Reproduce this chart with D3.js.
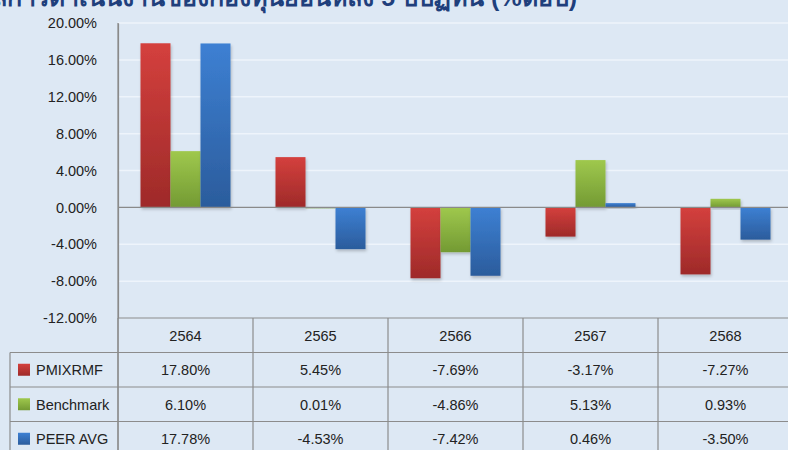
<!DOCTYPE html>
<html>
<head>
<meta charset="utf-8" />
<script src="https://d3js.org/d3.v7.min.js"></script>
<style>
  body { margin: 0; background: #dde8f4; }
  svg { display: block; }
  text { font-family: "Liberation Sans", Arial, sans-serif; fill: #222; }
</style>
</head>
<body>
<svg width="788" height="450"></svg>
<script>
const years = ["2564", "2565", "2566", "2567", "2568"];
const seriesNames = ["PMIXRMF", "Benchmark", "PEER AVG"];
const pmixrmf = [17.80, 5.45, -7.69, -3.17, -7.27];
const benchmark = [6.10, 0.01, -4.86, 5.13, 0.93];
const peerAvg = [17.78, -4.53, -7.42, 0.46, -3.50];
const yTicks = [20, 16, 12, 8, 4, 0, -4, -8, -12];
const title = "ผลการดำเนินงานของกองทุนย้อนหลัง 5 ปีปฏิทิน (%ต่อปี)";

const seriesValues = [pmixrmf, benchmark, peerAvg];
const colors = [
  { top: "#d4403d", bottom: "#9e2a29" },
  { top: "#9fc84d", bottom: "#739a33" },
  { top: "#3d80d3", bottom: "#2b5c9c" }
];

const svg = d3.select("svg");
const plotLeft = 118, plotRight = 793, plotTop = 23, plotBottom = 318;
const rowH = 34.5, legendLeft = 10;
const fmt = d3.formatLocale({ decimal: ".", thousands: ",", grouping: [3], currency: ["", ""], minus: "-" }).format(".2f");
const pct = v => fmt(v) + "%";

// title, cut off at the top edge like the source image
svg.append("text")
  .attr("x", 577).attr("y", 6)
  .attr("text-anchor", "end")
  .style("font-size", "25px").style("font-weight", "bold")
  .style("fill", "#1f3f7c")
  .text(title);

const y = d3.scaleLinear().domain([-12, 20]).range([plotBottom, plotTop]);
const x0 = d3.scaleBand().domain(years).range([plotLeft, plotRight]).padding(0);
const x1 = d3.scaleBand().domain(seriesNames).range([0, x0.bandwidth()]).paddingOuter(0.75).paddingInner(0);

// gradients
const defs = svg.append("defs");
colors.forEach((c, i) => {
  const g = defs.append("linearGradient").attr("id", "grad" + i)
    .attr("x1", 0).attr("y1", 0).attr("x2", 0).attr("y2", 1);
  g.append("stop").attr("offset", "0%").attr("stop-color", c.top);
  g.append("stop").attr("offset", "100%").attr("stop-color", c.bottom);
});
const shadow = defs.append("filter").attr("id", "shadow")
  .attr("x", "-20%").attr("y", "-20%").attr("width", "140%").attr("height", "140%");
shadow.append("feDropShadow").attr("dx", 1).attr("dy", 2).attr("stdDeviation", 1.5)
  .attr("flood-color", "#000").attr("flood-opacity", 0.22);

// gridlines
svg.append("g")
  .selectAll("line")
  .data(yTicks.filter(d => d !== 0 && d !== -12))
  .join("line")
  .attr("x1", plotLeft).attr("x2", 788)
  .attr("y1", d => y(d)).attr("y2", d => y(d))
  .attr("stroke", "#eef4fb").attr("stroke-width", 1.5);

// y axis
const yAxis = svg.append("g")
  .attr("transform", `translate(${plotLeft},0)`)
  .call(d3.axisLeft(y).tickValues(yTicks).tickSize(0).tickPadding(21).tickFormat(pct));
yAxis.select(".domain").attr("stroke", "#8a8a8a").attr("stroke-width", 1.2);
yAxis.selectAll("text").style("font-size", "14.5px").style("fill", "#222")
  .style("font-family", "'Liberation Sans', Arial, sans-serif");

// bars
const data = [];
years.forEach((yr, i) => seriesNames.forEach((s, j) => data.push({ yr, s, j, v: seriesValues[j][i] })));
svg.append("g")
  .selectAll("rect")
  .data(data)
  .join("rect")
  .attr("x", d => x0(d.yr) + x1(d.s))
  .attr("width", x1.bandwidth())
  .attr("y", d => y(Math.max(0, d.v)))
  .attr("height", d => Math.max(1, Math.abs(y(d.v) - y(0))))
  .attr("fill", d => `url(#grad${d.j})`)
  .attr("filter", "url(#shadow)");

// zero line
svg.append("line")
  .attr("x1", plotLeft).attr("x2", 788)
  .attr("y1", y(0)).attr("y2", y(0))
  .attr("stroke", "#8a8a8a").attr("stroke-width", 1.2);

// table
const table = svg.append("g");
const lineColor = "#8c8c8c";
const tableBottom = plotBottom + rowH * 4;
[0, 1, 2, 3].forEach(r => {
  table.append("line")
    .attr("x1", r === 0 ? plotLeft : legendLeft).attr("x2", 788)
    .attr("y1", plotBottom + r * rowH).attr("y2", plotBottom + r * rowH)
    .attr("stroke", lineColor).attr("stroke-width", 1.2);
});
years.forEach(yr => {
  table.append("line")
    .attr("x1", x0(yr)).attr("x2", x0(yr))
    .attr("y1", plotBottom).attr("y2", tableBottom)
    .attr("stroke", lineColor).attr("stroke-width", 1.2);
});
table.append("line")
  .attr("x1", plotLeft).attr("x2", plotLeft).attr("y1", plotTop).attr("y2", tableBottom)
  .attr("stroke", "#8a8a8a").attr("stroke-width", 1.2);
table.append("line")
  .attr("x1", legendLeft).attr("x2", legendLeft).attr("y1", plotBottom + rowH).attr("y2", tableBottom)
  .attr("stroke", lineColor).attr("stroke-width", 1.2);

// header
table.selectAll(".hdr")
  .data(years)
  .join("text")
  .attr("class", "hdr")
  .attr("x", d => x0(d) + x0.bandwidth() / 2)
  .attr("y", plotBottom + rowH / 2 + 6)
  .attr("text-anchor", "middle")
  .style("font-size", "14.5px")
  .text(d => d);

// rows
seriesNames.forEach((s, j) => {
  const cy = plotBottom + rowH * (j + 1) + rowH / 2;
  table.append("rect")
    .attr("x", 18).attr("y", cy - 6).attr("width", 12).attr("height", 12)
    .attr("fill", `url(#grad${j})`);
  table.append("text")
    .attr("x", 36).attr("y", cy + 5.5)
    .style("font-size", "14.5px")
    .text(s);
  table.selectAll(".v" + j)
    .data(years)
    .join("text")
    .attr("class", "v" + j)
    .attr("x", d => x0(d) + x0.bandwidth() / 2)
    .attr("y", cy + 5.5)
    .attr("text-anchor", "middle")
    .style("font-size", "14.5px")
    .text((d, i) => pct(seriesValues[j][i]));
});
</script>
</body>
</html>
